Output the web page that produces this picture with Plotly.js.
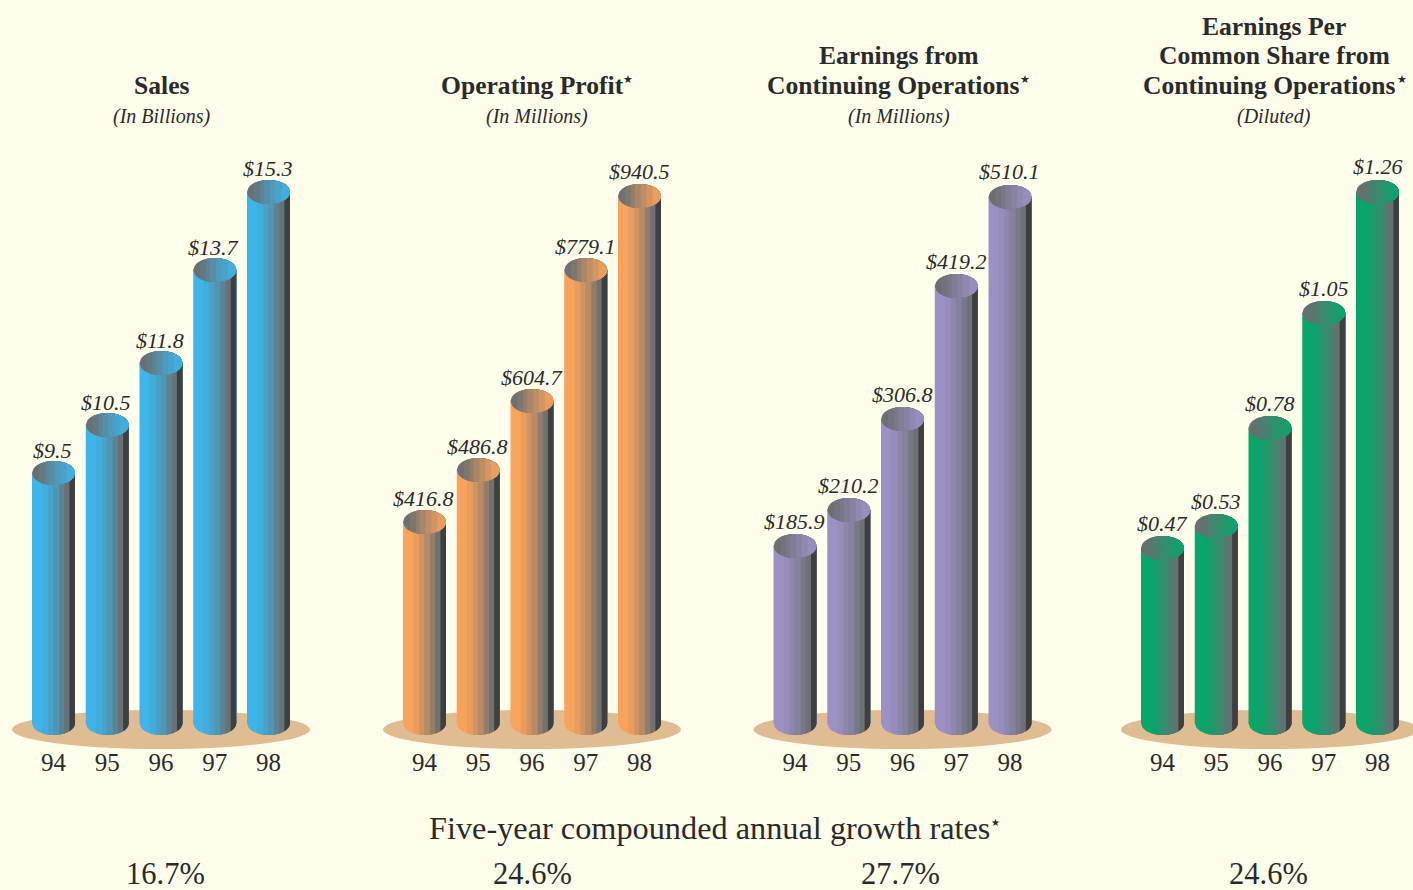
<!DOCTYPE html>
<html><head><meta charset="utf-8">
<script src="https://cdn.plot.ly/plotly-3.0.1.min.js"></script>
<style>html,body{margin:0;padding:0;background:#FFFEEC;overflow:hidden}</style>
</head><body><div id="chart" style="width:1413px;height:890px"></div>
<script>
const years = [94, 95, 96, 97, 98];

const salesLabels = ['$9.5', '$10.5', '$11.8', '$13.7', '$15.3'];
const profitLabels = ['$416.8', '$486.8', '$604.7', '$779.1', '$940.5'];
const earningsLabels = ['$185.9', '$210.2', '$306.8', '$419.2', '$510.1'];
const epsLabels = ['$0.47', '$0.53', '$0.78', '$1.05', '$1.26'];

// drawn column heights (the original's columns are not to a common scale)
const salesHeights = [250, 298, 360, 453, 531];
const profitHeights = [201, 253, 322, 453, 527];
const earningsHeights = [177, 213, 304, 437, 526];
const epsHeights = [175, 197, 295, 410, 531];

const panelTitles = [
  ['Sales'],
  ['Operating Profit'],
  ['Earnings from', 'Continuing Operations'],
  ['Earnings Per', 'Common Share from', 'Continuing Operations']
];
const panelSubtitles = ['(In Billions)', '(In Millions)', '(In Millions)', '(Diluted)'];
const growthRates = ['16.7%', '24.6%', '27.7%', '24.6%'];
const growthCaption = 'Five-year compounded annual growth rates';

const colors = ['#3DB5EA', '#F7A35C', '#9D90C4', '#07A66B'];
const plateColor = '#DFBC91', midGrey = '#6A6E70', darkSide = '#3E3F41', ink = '#2A2A2A', paper = '#FFFEEC';
const serif = '"Liberation Serif", serif';

const W = 1413, H = 890;
const panelLeft = [0, 371, 742, 1109], panelRight = [340, 711, 1082, 1413];
const firstCentre = [53.5, 424.5, 795, 1162.5];
const pxPerYear = 53.75, barPx = 43, plotTop = 150, plotBottom = 751, baseline = 723, capRy = 12;
const titleCentre = [162, 537, 898.5, 1274], starLineCentre = [162, 532, 892.5, 1269], growthCentre = [165, 532, 900, 1268];
const starX = [null, 628, 1025, 1401.5];
const lineY = [85, 55.5, 26];
const labelLift = [-2.5, -1.5, -0.5, -0.5], labelNudge = [-1, -0.5, 0, 0];

// shading: [start fraction across the column, blend toward grey; above 1 = dark side]
const bodySteps = [[0, 0], [.24, .12], [.38, .28], [.49, .45], [.63, .72], [.75, .95], [.87, 2]];
const capSteps = [[0, .98], [.16, .85], [.30, .7], [.39, .55], [.53, .4], [.66, .25], [.8, .1]];

const hex = c => [1, 3, 5].map(i => parseInt(c.substr(i, 2), 16));
const blend = (c, t) => {
  const a = hex(c), b = hex(t > 1 ? darkSide : midGrey), k = t > 1 ? 1 : t;
  return 'rgb(' + a.map((v, i) => Math.round(v + (b[i] - v) * k)).join(',') + ')';
};
// part of an ellipse to the right of fraction u0; lowerOnly keeps the half below the centre
function slice(cx, cy, rx, ry, u0, lowerOnly) {
  const n = 30, top = [], bottom = [];
  for (let i = 0; i <= n; i++) {
    const u = u0 + (1 - u0) * i / n, k = 2 * u - 1, d = ry * Math.sqrt(Math.max(0, 1 - k * k));
    top.push((cx + rx * k).toFixed(4) + ',' + (lowerOnly ? cy + 1 : cy + d).toFixed(3));
    bottom.unshift((cx + rx * k).toFixed(4) + ',' + (cy - d).toFixed(3));
  }
  return 'M' + top.concat(bottom).join('L') + 'Z';
}

const heights = [salesHeights, profitHeights, earningsHeights, epsHeights];
const labels = [salesLabels, profitLabels, earningsLabels, epsLabels];
const barW = barPx / pxPerYear;
const data = [], shapes = [], annotations = [];
const layout = {
  width: W, height: H, margin: {l: 0, r: 0, t: 0, b: 0},
  paper_bgcolor: paper, plot_bgcolor: 'rgba(0,0,0,0)',
  showlegend: false, barmode: 'overlay', hovermode: false,
  shapes, annotations
};
const text = (t, px, py, size, family) => annotations.push({
  text: t, x: px / W, y: 1 - py / H, xref: 'paper', yref: 'paper', showarrow: false,
  xanchor: 'center', yanchor: 'middle', font: {family: family || serif, size, color: ink}
});

heights.forEach((hs, p) => {
  const sfx = p ? String(p + 1) : '';
  const xa = 'x' + sfx, ya = 'y' + sfx;
  layout['xaxis' + sfx] = {
    domain: [panelLeft[p] / W, panelRight[p] / W],
    range: [94 + (panelLeft[p] - firstCentre[p]) / pxPerYear, 94 + (panelRight[p] - firstCentre[p]) / pxPerYear],
    anchor: ya, tickmode: 'array', tickvals: years, ticktext: years.map(String),
    showgrid: false, zeroline: false, showline: false, ticks: '', ticklabelstandoff: -6,
    tickfont: {family: serif, size: 25, color: ink}, fixedrange: true
  };
  layout['yaxis' + sfx] = {
    domain: [1 - plotBottom / H, 1 - plotTop / H],
    range: [baseline - plotBottom, baseline - plotTop],
    anchor: xa, visible: false, fixedrange: true
  };
  // plate under the columns
  shapes.push({type: 'circle', xref: xa, yref: ya, layer: 'below',
    x0: 96 - 149 / pxPerYear, x1: 96 + 149 / pxPerYear, y0: -26, y1: 13,
    fillcolor: plateColor, line: {width: 0}});
  // column bodies: each shade reaches to the right edge, the next paints over it
  bodySteps.forEach(([u, t]) => {
    data.push({type: 'bar', x: years, y: hs, xaxis: xa, yaxis: ya,
      offset: barW * (u - .5), width: barW * (1 - u),
      marker: {color: blend(colors[p], t), line: {width: 0}}});
  });
  years.forEach((yr, i) => {
    bodySteps.forEach(([u, t]) => shapes.push({type: 'path', xref: xa, yref: ya, layer: 'above',
      path: slice(yr, 0, barW / 2, capRy, u, true), fillcolor: blend(colors[p], t), line: {width: 0}}));
    capSteps.forEach(([u, t]) => shapes.push({type: 'path', xref: xa, yref: ya, layer: 'above',
      path: slice(yr, hs[i], barW / 2, capRy, u), fillcolor: blend(colors[p], t), line: {width: 0}}));
    annotations.push({text: '<i>' + labels[p][i] + '</i>', x: yr, y: hs[i] + capRy, xref: xa, yref: ya,
      showarrow: false, xanchor: 'center', yanchor: 'bottom', yshift: -1 + labelLift[p], xshift: labelNudge[p],
      font: {family: serif, size: 22, color: ink}});
  });
  const lines = panelTitles[p];
  lines.forEach((t, i) => {
    const last = i === lines.length - 1;
    text('<b>' + t + '</b>', last ? starLineCentre[p] : titleCentre[p], lineY[lines.length - 1 - i], 25.6);
  });
  if (starX[p]) text('★', starX[p], 79, 11, '"DejaVu Sans", sans-serif');
  text('<i>' + panelSubtitles[p] + '</i>', titleCentre[p], 116, 20);
  text(growthRates[p], growthCentre[p], 874, 30.5);
});
text(growthCaption, 709, 828, 32.3);
text('★', 996, 822, 10, '"DejaVu Sans", sans-serif');

Plotly.newPlot('chart', data, layout, {displayModeBar: false, staticPlot: true});
</script></body></html>
